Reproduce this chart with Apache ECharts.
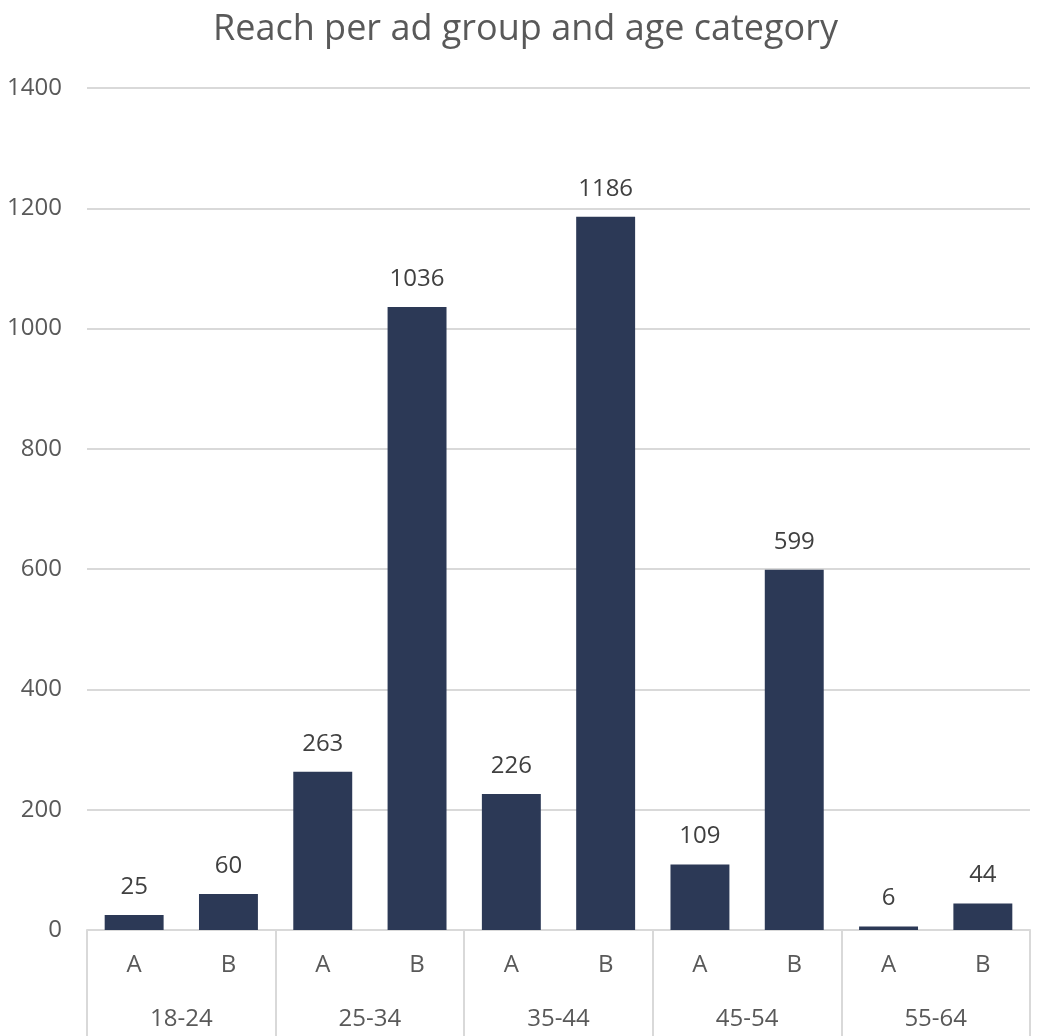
<!DOCTYPE html>
<html>
<head>
<meta charset="utf-8">
<title>Reach per ad group and age category</title>
<script src="https://cdn.jsdelivr.net/npm/echarts@6/dist/echarts.min.js"></script>
<style>
  html, body { margin: 0; padding: 0; background: #ffffff; }
  #chart { width: 1040px; height: 1036px; }
</style>
</head>
<body>
<div id="chart"></div>
<script>
// Age categories (outer axis level) and ad groups (inner axis level)
const ageGroups = ['18-24', '25-34', '35-44', '45-54', '55-64'];
const adGroups = ['A', 'B'];

// Reach per age category for each ad group
const reachA = [25, 263, 226, 109, 6];
const reachB = [60, 1036, 1186, 599, 44];

// Y axis ticks
const yMin = 0;
const yMax = 1400;
const yStep = 200;

// Flatten into the inner-level category list: A, B for each age category
const innerCats = [];
const values = [];
ageGroups.forEach(function (g, i) {
  innerCats.push(adGroups[0]);
  values.push(reachA[i]);
  innerCats.push(adGroups[1]);
  values.push(reachB[i]);
});

const FONT = '"Open Sans", "Noto Sans", sans-serif';
const GRID_COLOR = '#d9d9d9';
const TEXT_COLOR = '#595959';

const chart = echarts.init(document.getElementById('chart'), null, { renderer: 'canvas' });

chart.setOption({
  backgroundColor: '#ffffff',
  animation: false,
  textStyle: { fontFamily: FONT },
  title: {
    text: 'Reach per ad group and age category',
    left: 208,
    top: 7,
    textStyle: {
      fontFamily: FONT,
      fontSize: 36,
      fontWeight: 'normal',
      color: TEXT_COLOR
    }
  },
  grid: {
    left: 87,
    right: 10,
    top: 88,
    bottom: 106,
    containLabel: false
  },
  xAxis: [
    {
      type: 'category',
      data: innerCats,
      position: 'bottom',
      axisLine: { show: true, lineStyle: { color: GRID_COLOR, width: 2 } },
      axisTick: { show: false },
      axisLabel: {
        margin: 23,
        fontSize: 24,
        color: TEXT_COLOR,
        fontFamily: FONT
      }
    },
    {
      type: 'category',
      data: ageGroups,
      position: 'bottom',
      axisLine: { show: false },
      axisTick: {
        show: true,
        length: 106,
        lineStyle: { color: GRID_COLOR, width: 2 }
      },
      axisLabel: {
        margin: 77,
        fontSize: 24,
        color: TEXT_COLOR,
        fontFamily: FONT
      },
      splitLine: { show: false }
    }
  ],
  yAxis: {
    type: 'value',
    min: yMin,
    max: yMax,
    interval: yStep,
    axisLine: { show: false },
    axisTick: { show: false },
    axisLabel: {
      margin: 25,
      fontSize: 24,
      color: TEXT_COLOR,
      fontFamily: FONT,
      formatter: function (v) { return String(v); }
    },
    splitLine: { lineStyle: { color: GRID_COLOR, width: 2 } }
  },
  series: [
    {
      type: 'bar',
      xAxisIndex: 0,
      data: values,
      barWidth: '62.5%',
      itemStyle: { color: '#2c3956' },
      label: {
        show: true,
        position: 'top',
        distance: 16,
        fontSize: 24,
        color: '#404040',
        fontFamily: FONT
      }
    }
  ]
});
</script>
</body>
</html>
